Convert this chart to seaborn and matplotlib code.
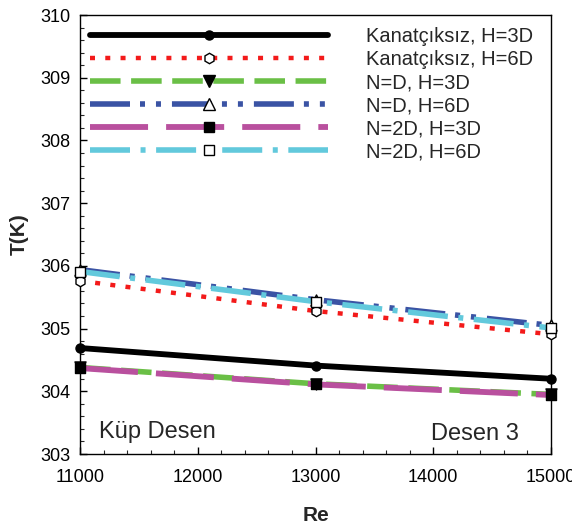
import numpy as np
import pandas as pd
import matplotlib
matplotlib.use("Agg")
import matplotlib.pyplot as plt
import seaborn as sns
from matplotlib.lines import Line2D
from matplotlib.ticker import MultipleLocator

# ---- data ----
re_vals = [11000, 13000, 15000]
series_labels = ["Kanatçıksız, H=3D", "Kanatçıksız, H=6D", "N=D, H=3D",
                 "N=D, H=6D", "N=2D, H=3D", "N=2D, H=6D"]
t_kan_3d = [304.69, 304.41, 304.20]
t_kan_6d = [305.76, 305.28, 304.91]
t_nd_3d = [304.38, 304.12, 303.95]
t_nd_6d = [305.94, 305.46, 305.05]
t_n2d_3d = [304.37, 304.11, 303.94]
t_n2d_6d = [305.91, 305.43, 305.01]
series_values = [t_kan_3d, t_kan_6d, t_nd_3d, t_nd_6d, t_n2d_3d, t_n2d_6d]
x_ticks = [11000, 12000, 13000, 14000, 15000]
y_ticks = [303, 304, 305, 306, 307, 308, 309, 310]

# ---- styles ----
colors = ["#000000", "#f31a1a", "#6abf46", "#3a53a4", "#b9509e", "#62c9dc"]
widths = [4.2, 3.2, 4.0, 4.0, 4.2, 4.0]
styles = ["-",
          (0, (3.6, 7.4)),
          (0, (22, 7.6)),
          (0, (28.8, 7.2, 3.6, 7.9, 3.6, 7.9)),
          (0, (41.8, 13)),
          (0, (28.8, 7.6, 3.6, 7.6))]
markers = ["o", "h", "v", "^", "s", "s"]
mfaces = ["black", "white", "black", "white", "black", "white"]
msizes = [6.5, 7.5, 8, 8, 7.5, 7.5]

sns.set_theme(style="white")
plt.rcParams['font.family'] = ['Liberation Sans', 'DejaVu Sans']
plt.rcParams['lines.scale_dashes'] = False

fig = plt.figure(figsize=(5.72, 5.28), dpi=100)
ax = fig.add_axes([80/572, 74/528, 471/572, 439/528])

for lab, vals, c, lw, ls in zip(series_labels, series_values, colors, widths, styles):
    df = pd.DataFrame({"Re": re_vals, "T": vals})
    sns.lineplot(data=df, x="Re", y="T", color=c, linewidth=lw, linestyle=ls,
                 ax=ax, dash_capstyle="butt", solid_capstyle="butt")

for vals, m, fc, ms in zip(series_values, markers, mfaces, msizes):
    df = pd.DataFrame({"Re": re_vals, "T": vals})
    sns.scatterplot(data=df, x="Re", y="T", marker=m, s=ms**2, color=fc,
                    edgecolor="black", linewidth=1.0, ax=ax, zorder=5,
                    clip_on=False)

ax.set_xlim(11000, 15000)
ax.set_ylim(303, 310)
ax.set_xticks(x_ticks)
ax.set_yticks(y_ticks)
ax.xaxis.set_minor_locator(MultipleLocator(200))
ax.yaxis.set_minor_locator(MultipleLocator(0.2))
ax.tick_params(axis="both", which="major", direction="in", length=5, width=1,
               labelsize=13, colors="black", bottom=True, left=True,
               top=False, right=False)
ax.tick_params(axis="x", which="major", pad=11)
ax.tick_params(axis="y", which="major", pad=7)
ax.tick_params(axis="both", which="minor", direction="in", length=3, width=0.8,
               bottom=True, left=True, top=False, right=False)
for sp in ax.spines.values():
    sp.set_color("black")
    sp.set_linewidth(1.0)

ax.set_xlabel("Re", fontsize=15, fontweight="bold", labelpad=14)
ax.set_ylabel("T(K)", fontsize=15, fontweight="bold", labelpad=8)

ax.text(0.040, 0.036, "Küp Desen", transform=ax.transAxes, fontsize=17,
        ha="left", va="baseline")
ax.text(0.932, 0.032, "Desen 3", transform=ax.transAxes, fontsize=17,
        ha="right", va="baseline")

handles = [Line2D([], [], color=c, linewidth=lw, linestyle=ls, marker=m,
                  markersize=ms, markerfacecolor=fc, markeredgecolor="black",
                  markeredgewidth=1.0, dash_capstyle="butt")
           for c, lw, ls, m, fc, ms in zip(colors, widths, styles, markers, mfaces, msizes)]
ax.legend(handles, series_labels, loc="upper left", bbox_to_anchor=(0.0212, 0.972),
          frameon=False, fontsize=14.5, handlelength=11.8, handletextpad=1.9,
          labelspacing=0.2, borderpad=0, borderaxespad=0, numpoints=1)

fig.savefig("out.png", dpi=100)
